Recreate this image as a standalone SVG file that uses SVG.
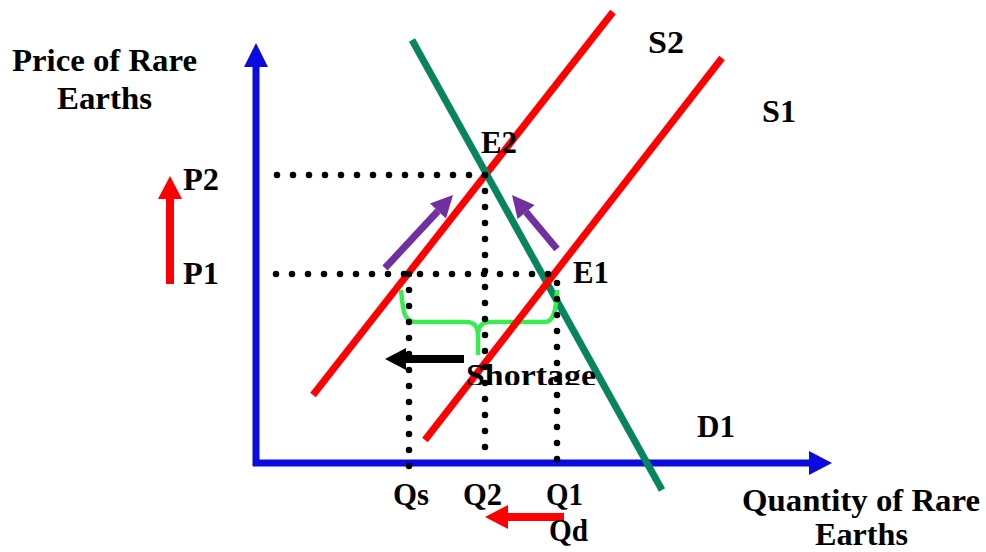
<svg xmlns="http://www.w3.org/2000/svg" width="986" height="552" viewBox="0 0 986 552">
<style>
text{font-family:"Liberation Serif","DejaVu Serif",serif;font-weight:bold;font-size:31px;fill:#000}
.axis{stroke:#0B0BE0;stroke-width:7;fill:none}
.axh{fill:#0B0BE0}
.sup{stroke:#FF0000;stroke-width:7;fill:none}
.dem{stroke:#08845E;stroke-width:7;fill:none}
.dot{stroke:#000;stroke-width:6.5;stroke-linecap:round;stroke-dasharray:0 16;fill:none}
.pur{stroke:#7030A0;stroke-width:7;fill:none}
.purh{fill:#7030A0}
.red{stroke:#FF0000;stroke-width:8;fill:none}
.redh{fill:#FF0000}
</style>
<defs>
<clipPath id="clipShort"><rect x="440" y="340" width="200" height="45"/></clipPath>
</defs>
<rect width="986" height="552" fill="#fff"/>
<g id="axes">
<line class="axis" x1="256" y1="466" x2="256" y2="64"/>
<polygon class="axh" points="256,43 244,67 268,67"/>
<line class="axis" x1="253" y1="463" x2="812" y2="463"/>
<polygon class="axh" points="832,463 809,451 809,475"/>
</g>
<g id="connectors">
<line id="S2" class="sup" x1="313" y1="395" x2="613" y2="12"/>
<line id="D1" class="dem" x1="412" y1="40" x2="662" y2="490"/>
<path id="brace" d="M401,290 C403,312 404,322 416,322 L466,322 C474,322 478,326 478,336 L478,355 M478,336 C478,326 482,322 490,322 L545,322 C553,322 556,312 557,290" fill="none" stroke="#38EE4E" stroke-width="4.5"/>
<line id="S1" class="sup" x1="425" y1="440" x2="722" y2="58"/>
<path class="dot" d="M485,175 L269,175"/>
<path class="dot" d="M548,274 L265,274"/>
<path class="dot" d="M485,175 L485,460"/>
<path class="dot" d="M409,274 L409,472"/>
<path class="dot" d="M557,283 L557,464"/>
<g id="arrowPurpleLeft">
<line class="pur" x1="385" y1="268" x2="438" y2="211"/>
<polygon class="purh" points="453,195 446,218.6 430,203.6"/>
</g>
<g id="arrowPurpleRight">
<line class="pur" x1="557" y1="249" x2="526" y2="212"/>
<polygon class="purh" points="512,195 534.6,204.9 517.6,218.9"/>
</g>
<g id="arrowShortage">
<line stroke="#000" stroke-width="8" x1="464" y1="359" x2="403" y2="359"/>
<polygon fill="#000" points="385,359 406,348 406,370"/>
</g>
<g id="arrowPrice">
<line class="red" x1="170" y1="284" x2="170" y2="196"/>
<polygon class="redh" points="170,176 158,199 182,199"/>
</g>
<g id="arrowQty">
<line class="red" x1="564" y1="517" x2="505" y2="517"/>
<polygon class="redh" points="485,517 508,505 508,529"/>
</g>
</g>
<g id="labels">
<text x="12" y="71" textLength="185" lengthAdjust="spacingAndGlyphs">Price of Rare</text>
<text x="57" y="109" textLength="95" lengthAdjust="spacingAndGlyphs">Earths</text>
<text x="183" y="190" textLength="36" lengthAdjust="spacingAndGlyphs">P2</text>
<text x="183" y="284" textLength="36" lengthAdjust="spacingAndGlyphs">P1</text>
<text x="481" y="153" textLength="36" lengthAdjust="spacingAndGlyphs">E2</text>
<text x="573" y="283" textLength="36" lengthAdjust="spacingAndGlyphs">E1</text>
<text x="648" y="53" textLength="36" lengthAdjust="spacingAndGlyphs">S2</text>
<text x="762" y="122" textLength="34" lengthAdjust="spacingAndGlyphs">S1</text>
<text x="697" y="437" textLength="38" lengthAdjust="spacingAndGlyphs">D1</text>
<g clip-path="url(#clipShort)">
<text x="466" y="386" textLength="130" lengthAdjust="spacingAndGlyphs">Shortage</text>
</g>
<text x="393" y="505" textLength="36" lengthAdjust="spacingAndGlyphs">Qs</text>
<text x="463" y="505" textLength="39" lengthAdjust="spacingAndGlyphs">Q2</text>
<text x="546" y="505" textLength="37" lengthAdjust="spacingAndGlyphs">Q1</text>
<text x="549" y="541" textLength="39" lengthAdjust="spacingAndGlyphs">Qd</text>
<text x="742" y="511" textLength="238" lengthAdjust="spacingAndGlyphs">Quantity of Rare</text>
<text x="815" y="545" textLength="93" lengthAdjust="spacingAndGlyphs">Earths</text>
</g>
</svg>
